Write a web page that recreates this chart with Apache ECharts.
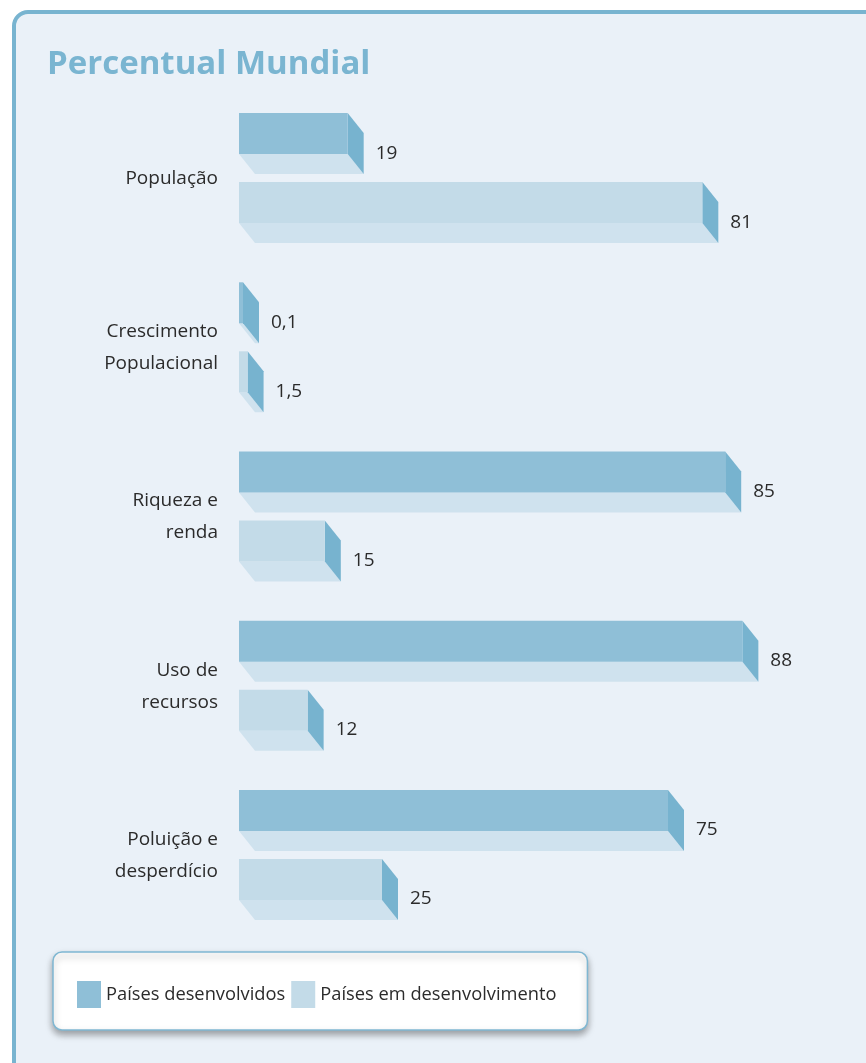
<!DOCTYPE html>
<html>
<head>
<meta charset="utf-8">
<script src="https://cdn.jsdelivr.net/npm/echarts@6/dist/echarts.min.js"></script>
<style>
  html, body { margin: 0; padding: 0; background: #ffffff; }
  #panel { position: absolute; left: 12px; top: 10px; width: 900px; height: 1100px;
           border: 4px solid #78b4d0; border-radius: 16px; background: #eaf1f8; box-sizing: border-box; }
  #chart { position: absolute; left: 0; top: 0; width: 866px; height: 1063px; }
</style>
</head>
<body>
<div id="panel"></div>
<div id="chart"></div>
<script>
const categories = ['População', 'Crescimento\nPopulacional', 'Riqueza e\nrenda', 'Uso de\nrecursos', 'Poluição e\ndesperdício'];
const developed = [19, 0.1, 85, 88, 75];
const developing = [81, 1.5, 15, 12, 25];
const seriesNames = ['Países desenvolvidos', 'Países em desenvolvimento'];

const FONT = 'Open Sans';
const frontColors = ['#8fbfd7', '#c3dbe8'];
const sideColor = '#77b3cf';
const bottomColor = '#cfe2ee';

function fmt(v) { return String(v).replace('.', ','); }

function makeRender(seriesIdx) {
  return function (params, api) {
    const v = api.value(0);
    const cat = api.value(1);
    const p0 = api.coord([0, cat]);
    const p1 = api.coord([v, cat]);
    const h = 41, dx = 16, dy = 20;
    const top = p0[1] + (seriesIdx === 0 ? -65.5 : 3.5);
    const x0 = p0[0];
    const x1 = Math.max(p1[0], x0 + 4);
    const yb = top + h;
    return {
      type: 'group',
      children: [
        { type: 'polygon', shape: { points: [[x0, yb], [x1, yb], [x1 + dx, yb + dy], [x0 + dx, yb + dy]] },
          style: { fill: bottomColor } },
        { type: 'polygon', shape: { points: [[x1, top], [x1 + dx, top + dy], [x1 + dx, yb + dy], [x1, yb]] },
          style: { fill: sideColor } },
        { type: 'rect', shape: { x: x0, y: top, width: x1 - x0, height: h },
          style: { fill: frontColors[seriesIdx] } },
        { type: 'text', x: x1 + 28, y: top + 40,
          style: { text: fmt(v), fill: '#2b2b2b', font: '19px "' + FONT + '"', verticalAlign: 'middle', align: 'left' } }
      ]
    };
  };
}

const chart = echarts.init(document.getElementById('chart'), null, { renderer: 'canvas' });
chart.setOption({
  backgroundColor: 'transparent',
  animation: false,
  title: {
    text: 'Percentual Mundial', left: 42, top: 43,
    textStyle: { fontFamily: FONT, fontWeight: 'bold', fontSize: 33, color: '#7ab5d1' }
  },
  legend: {
    data: seriesNames, left: 53, top: 952, orient: 'horizontal',
    icon: 'rect', itemWidth: 24, itemHeight: 27, itemGap: 6,
    padding: [29, 31, 22, 24],
    backgroundColor: '#ffffff', borderColor: '#7fb7d2', borderWidth: 1.5, borderRadius: 9,
    shadowBlur: 7, shadowColor: 'rgba(0,0,0,0.35)', shadowOffsetY: 4,
    textStyle: { fontFamily: FONT, fontSize: 18.3, color: '#2b2b2b' },
    selectedMode: false
  },
  grid: { left: 239, top: 94, width: 572, height: 846 },
  xAxis: { type: 'value', min: 0, max: 100, show: false },
  yAxis: {
    type: 'category', data: categories, inverse: true,
    axisLine: { show: false }, axisTick: { show: false }, splitLine: { show: false },
    axisLabel: { margin: 21, fontFamily: FONT, fontSize: 19, color: '#2b2b2b', lineHeight: 32, align: 'right' }
  },
  series: [
    { type: 'custom', name: seriesNames[0], itemStyle: { color: frontColors[0] },
      encode: { x: 0, y: 1 }, renderItem: makeRender(0),
      data: developed.map((v, i) => [v, i]) },
    { type: 'custom', name: seriesNames[1], itemStyle: { color: frontColors[1] },
      encode: { x: 0, y: 1 }, renderItem: makeRender(1),
      data: developing.map((v, i) => [v, i]) }
  ]
});
</script>
</body>
</html>
